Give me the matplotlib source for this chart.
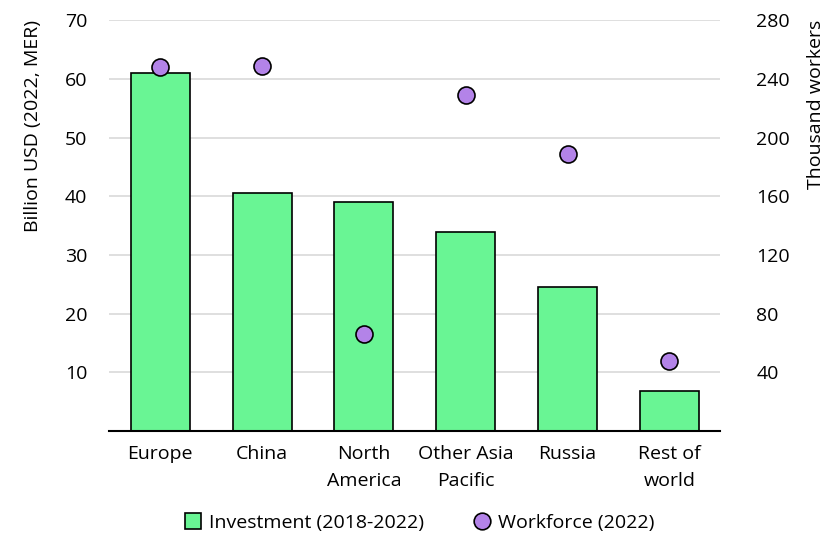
import matplotlib.pyplot as plt
from matplotlib.lines import Line2D

plt.rcParams['font.family'] = ['Open Sans', 'DejaVu Sans']

regions = ['Europe', 'China', 'North\nAmerica', 'Other Asia\nPacific', 'Russia', 'Rest of\nworld']
investment = [61.0, 40.6, 39.0, 33.9, 24.5, 6.9]
workforce = [248, 249, 66, 229, 189, 48]

left_ticks = [10, 20, 30, 40, 50, 60, 70]
right_ticks = [40, 80, 120, 160, 200, 240, 280]

bar_color = '#69F594'
dot_color = '#B383E8'
fs = 14

fig, ax = plt.subplots(figsize=(8.28, 5.47), dpi=100)
fig.subplots_adjust(left=0.132, right=0.87, top=0.963, bottom=0.212)

x = range(len(regions))
ax.bar(x, investment, width=0.58, color=bar_color, edgecolor='black', linewidth=1.2, zorder=2)

ax2 = ax.twinx()
ax2.scatter(x, workforce, s=150, color=dot_color, edgecolor='black', linewidth=1.2, zorder=3)

ax.set_xlim(-0.5, len(regions) - 0.5)
ax.set_ylim(0, 70)
ax2.set_ylim(0, 280)
ax.set_yticks(left_ticks)
ax2.set_yticks(right_ticks)
ax.set_xticks(list(x))
ax.set_xticklabels(regions, fontsize=fs, linespacing=1.65)

ax.yaxis.grid(True, color='#d9d9d9', linewidth=1.2, zorder=0)
ax.set_axisbelow(True)

for a in (ax, ax2):
    for side in ('top', 'left', 'right'):
        a.spines[side].set_visible(False)
    a.tick_params(length=0, labelsize=fs)
ax2.spines['bottom'].set_visible(False)
ax.spines['bottom'].set_linewidth(1.5)
ax.tick_params(axis='x', pad=10)
ax.tick_params(axis='y', pad=16)
ax2.tick_params(axis='y', pad=26)

ax.set_ylabel('Billion USD (2022, MER)', fontsize=fs, labelpad=16, loc='top')
ax2.set_ylabel('Thousand workers', fontsize=fs, labelpad=12, loc='top')

handles = [
    Line2D([], [], marker='s', linestyle='none', markersize=12,
           markerfacecolor=bar_color, markeredgecolor='black', markeredgewidth=1.2),
    Line2D([], [], marker='o', linestyle='none', markersize=12,
           markerfacecolor=dot_color, markeredgecolor='black', markeredgewidth=1.2),
]
fig.legend(handles, ['Investment (2018-2022)', 'Workforce (2022)'],
           loc='lower center', bbox_to_anchor=(0.5, -0.005), ncol=2, frameon=False,
           fontsize=fs, handletextpad=-0.2, columnspacing=2.0)

fig.savefig('out.png', dpi=100)
